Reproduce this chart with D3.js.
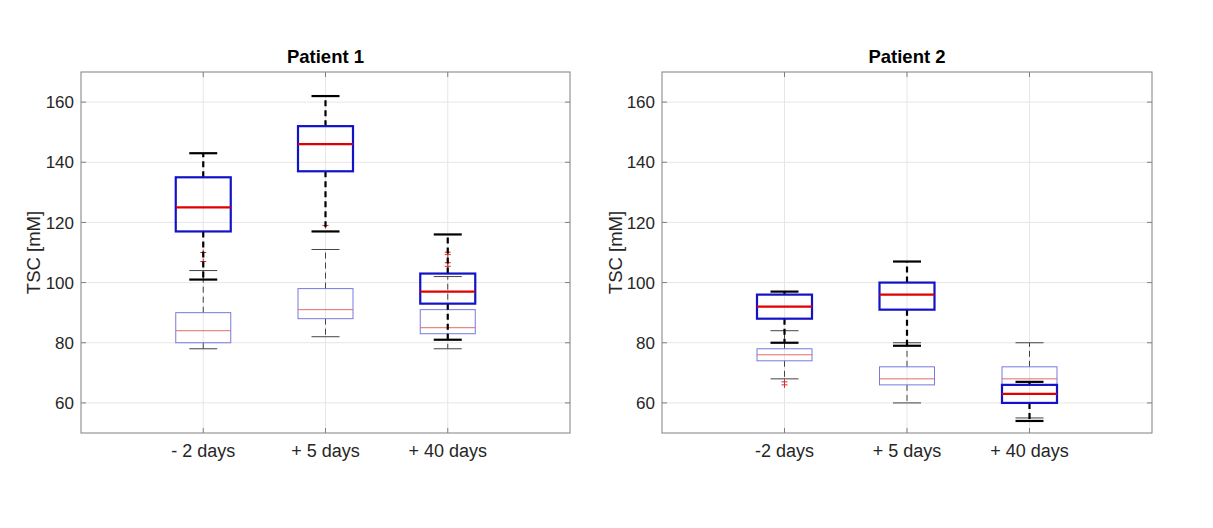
<!DOCTYPE html>
<html>
<head>
<meta charset="utf-8">
<script src="https://cdn.jsdelivr.net/npm/d3@7"></script>
<style>
  body { margin: 0; background: #fff; }
  svg { display: block; font-family: "Liberation Sans", Arial, sans-serif; }
</style>
</head>
<body>
<svg id="chart" width="1213" height="528"></svg>
<script>
// box stats: [lower whisker, q1, median, q3, upper whisker]
var titles = ['Patient 1', 'Patient 2']
var categories1 = ['- 2 days', '+ 5 days', '+ 40 days']
var categories2 = ['-2 days', '+ 5 days', '+ 40 days']
var yTicks = [60, 80, 100, 120, 140, 160]

var p1Bold = [[101, 117, 125, 135, 143], [117, 137, 146, 152, 162], [81, 93, 97, 103, 116]]
var p1Thin = [[78, 80, 84, 90, 104], [82, 88, 91, 98, 111], [78, 83, 85, 91, 102]]
var p1ThinOut = [[107, 110], [119], [105.4, 106.6, 109.3, 110.1]]

var p2Bold = [[80, 88, 92, 96, 97], [79, 91, 96, 100, 107], [54, 60, 63, 66, 67]]
var p2Thin = [[68, 74, 76, 78, 84], [60, 66, 68, 72, 80], [55, 60, 68, 72, 80]]
var p2ThinOut = [[66, 67], [], []]

var panels = [
  {title: titles[0], cats: categories1, bold: p1Bold, thin: p1Thin, out: p1ThinOut, left: 81, right: 570, labelX: 40},
  {title: titles[1], cats: categories2, bold: p2Bold, thin: p2Thin, out: p2ThinOut, left: 662, right: 1152, labelX: 622}
]

var plotTop = 72, plotBottom = 433
var svg = d3.select('#chart')

var styles = {
  thin: {box: '#7878e0', boxW: 1, med: '#e26b6b', medW: 1, whisk: '#444', whiskW: 1},
  bold: {box: '#1212c8', boxW: 2.2, med: '#e00000', medW: 2.2, whisk: '#000', whiskW: 2.2}
}

panels.forEach(function (p) {
  var x = d3.scaleLinear().domain([0, 4]).range([p.left, p.right])
  var y = d3.scaleLinear().domain([50, 170]).range([plotBottom, plotTop])
  var g = svg.append('g')

  // grid
  g.selectAll('.gy').data(yTicks).enter().append('line')
    .attr('x1', p.left).attr('x2', p.right)
    .attr('y1', d => y(d)).attr('y2', d => y(d))
    .attr('stroke', '#e6e6e6').attr('stroke-width', 1)
  g.selectAll('.gx').data([1, 2, 3]).enter().append('line')
    .attr('x1', d => x(d)).attr('x2', d => x(d))
    .attr('y1', plotTop).attr('y2', plotBottom)
    .attr('stroke', '#e6e6e6').attr('stroke-width', 1)

  // boxes, thin first then bold on top
  function drawBoxes (data, s, outliers) {
    var hw = 27.5, cw = 14
    data.forEach(function (b, i) {
      var cx = x(i + 1)
      // whiskers
      g.append('line').attr('x1', cx).attr('x2', cx).attr('y1', y(b[3])).attr('y2', y(b[4]))
        .attr('stroke', s.whisk).attr('stroke-width', s.whiskW).attr('stroke-dasharray', '6,4')
      g.append('line').attr('x1', cx).attr('x2', cx).attr('y1', y(b[1])).attr('y2', y(b[0]))
        .attr('stroke', s.whisk).attr('stroke-width', s.whiskW).attr('stroke-dasharray', '6,4')
      // caps
      ;[b[0], b[4]].forEach(function (v) {
        g.append('line').attr('x1', cx - cw).attr('x2', cx + cw).attr('y1', y(v)).attr('y2', y(v))
          .attr('stroke', s.whisk).attr('stroke-width', s.whiskW)
      })
      // box
      g.append('rect').attr('x', cx - hw).attr('width', hw * 2)
        .attr('y', y(b[3])).attr('height', y(b[1]) - y(b[3]))
        .attr('fill', 'none').attr('stroke', s.box).attr('stroke-width', s.boxW)
      // median
      g.append('line').attr('x1', cx - hw).attr('x2', cx + hw).attr('y1', y(b[2])).attr('y2', y(b[2]))
        .attr('stroke', s.med).attr('stroke-width', s.medW)
      // outliers
      if (outliers) {
        outliers[i].forEach(function (v) {
          g.append('path')
            .attr('d', 'M' + (cx - 3) + ',' + y(v) + 'h6M' + cx + ',' + (y(v) - 3) + 'v6')
            .attr('stroke', '#d03030').attr('stroke-width', 1).attr('fill', 'none')
        })
      }
    })
  }
  drawBoxes(p.thin, styles.thin, p.out)
  drawBoxes(p.bold, styles.bold, null)

  // frame
  g.append('rect').attr('x', p.left).attr('y', plotTop)
    .attr('width', p.right - p.left).attr('height', plotBottom - plotTop)
    .attr('fill', 'none').attr('stroke', '#808080').attr('stroke-width', 1)

  // inward ticks
  var tl = 5
  yTicks.forEach(function (t) {
    g.append('line').attr('x1', p.left).attr('x2', p.left + tl).attr('y1', y(t)).attr('y2', y(t)).attr('stroke', '#808080')
    g.append('line').attr('x1', p.right).attr('x2', p.right - tl).attr('y1', y(t)).attr('y2', y(t)).attr('stroke', '#808080')
  })
  ;[1, 2, 3].forEach(function (t) {
    g.append('line').attr('x1', x(t)).attr('x2', x(t)).attr('y1', plotBottom).attr('y2', plotBottom - tl).attr('stroke', '#808080')
    g.append('line').attr('x1', x(t)).attr('x2', x(t)).attr('y1', plotTop).attr('y2', plotTop + tl).attr('stroke', '#808080')
  })

  // tick labels
  g.selectAll('.yl').data(yTicks).enter().append('text')
    .attr('x', p.left - 7).attr('y', d => y(d)).attr('dy', '0.36em')
    .attr('text-anchor', 'end').attr('font-size', 17).attr('fill', '#262626')
    .text(d => d)
  g.selectAll('.xl').data(p.cats).enter().append('text')
    .attr('x', (d, i) => x(i + 1)).attr('y', 457)
    .attr('text-anchor', 'middle').attr('font-size', 18).attr('fill', '#262626')
    .text(d => d)

  // axis label
  g.append('text')
    .attr('transform', 'translate(' + p.labelX + ',' + ((plotTop + plotBottom) / 2) + ') rotate(-90)')
    .attr('text-anchor', 'middle').attr('font-size', 18.5).attr('fill', '#262626')
    .text('TSC [mM]')

  // title
  g.append('text')
    .attr('x', (p.left + p.right) / 2).attr('y', 63)
    .attr('text-anchor', 'middle').attr('font-size', 18.5).attr('font-weight', 'bold').attr('fill', '#000')
    .text(p.title)
})
</script>
</body>
</html>
